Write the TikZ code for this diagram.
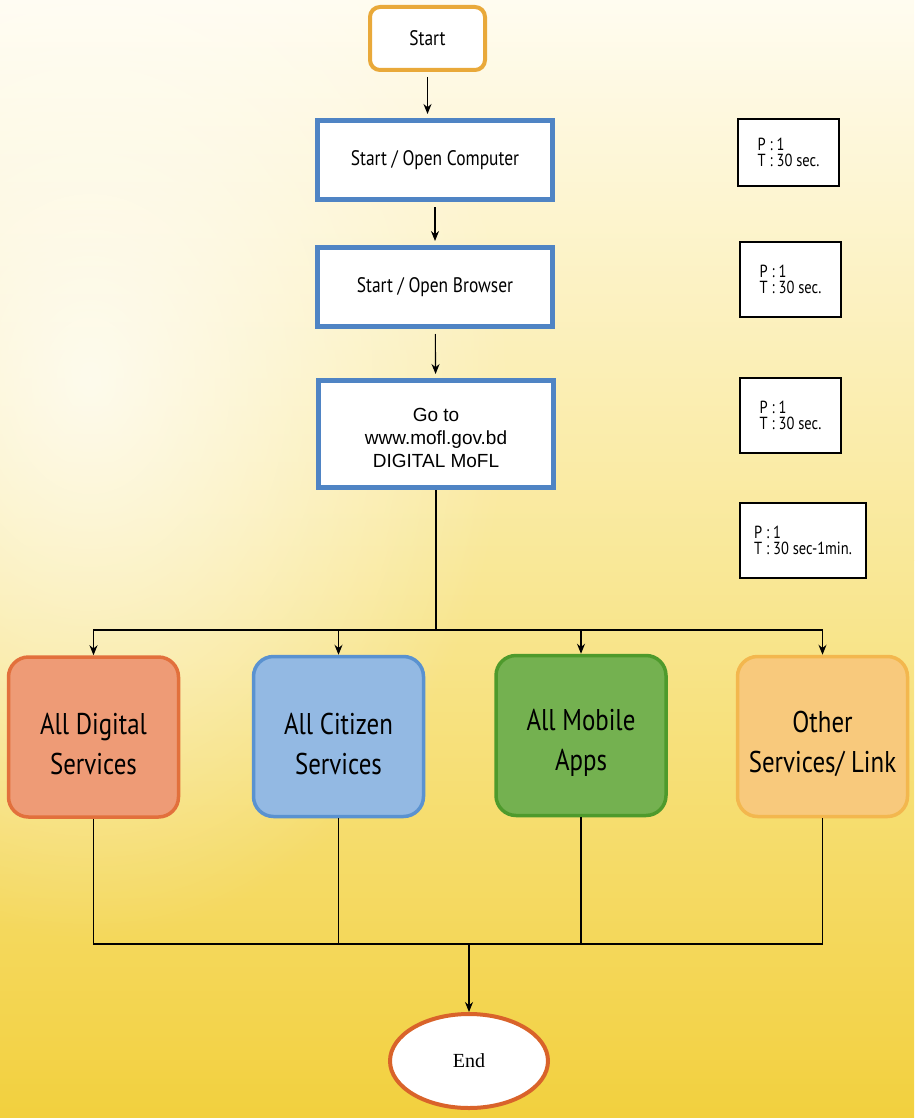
\documentclass[tikz,border=0pt]{standalone}
\usepackage{fontspec}
\setmainfont{Liberation Serif}
\newfontfamily\boxfont[FakeStretch=0.83]{PT Sans}
\newfontfamily\webfont{Liberation Sans}
\usetikzlibrary{shapes.geometric,arrows.meta,fadings}

\definecolor{bgtop}{HTML}{FFFCF0}
\definecolor{bgmid}{HTML}{F9E898}
\definecolor{bgbottom}{HTML}{F2D03E}
\definecolor{startorange}{HTML}{E9A93A}
\definecolor{stepblue}{HTML}{4F84C4}
\definecolor{digitalfill}{HTML}{EE9B76}
\definecolor{digitaldraw}{HTML}{E2703C}
\definecolor{citizenfill}{HTML}{93B9E3}
\definecolor{citizendraw}{HTML}{5A92D0}
\definecolor{mobilefill}{HTML}{74B150}
\definecolor{mobiledraw}{HTML}{4E9A2C}
\definecolor{otherfill}{HTML}{F8C97C}
\definecolor{otherdraw}{HTML}{F3B74E}
\definecolor{endorange}{HTML}{D9632A}

\tikzfading[name=softglow,inner color=transparent!0,outer color=transparent!100]

\begin{document}
\begin{tikzpicture}[x=1pt,y=-1pt,>={Stealth[length=10pt,width=8pt]}]

	\tikzstyle{startbox}=[draw=startorange,line width=4pt,rounded corners=10pt,fill=white,minimum width=115pt,minimum height=63pt,font=\boxfont\fontsize{21}{24}\selectfont]
	\tikzstyle{stepbox}=[draw=stepblue,line width=5pt,fill=white,minimum width=235pt,minimum height=79pt,align=center,font=\boxfont\fontsize{21}{24}\selectfont]
	\tikzstyle{timebox}=[draw,line width=1.4pt,fill=white,align=left,font=\boxfont\fontsize{17.5}{16}\selectfont]
	\tikzstyle{servicebox}=[line width=3.5pt,rounded corners=20pt,minimum width=170pt,minimum height=160pt,align=center,font=\boxfont\fontsize{30}{40}\selectfont]
	\tikzstyle{link}=[line width=1.1pt]
	\tikzstyle{gap}=[shorten <=5pt,shorten >=4pt]

	% background
	\useasboundingbox (0,0) rectangle (914,1118);
	\shade[top color=bgtop,bottom color=bgmid] (0,0) rectangle (914,560);
	\shade[top color=bgmid,bottom color=bgbottom] (0,560) rectangle (914,1118);
	\fill[white,opacity=0.75,path fading=softglow] (90,380) ellipse (420pt and 560pt);

	\node[startbox] (start) at (427.5,38.5) {Start};
	\node[stepbox] (computer) at (435,160) {Start / Open Computer};
	\node[stepbox] (browser) at (435,287) {Start / Open Browser};
	\node[stepbox,minimum height=107pt,font=\webfont\fontsize{19}{23}\selectfont] (goto) at (436,434) {\rule{0pt}{22pt}Go to\\www.mofl.gov.bd\\DIGITAL MoFL};

	\node[timebox,minimum width=101pt,minimum height=67pt] (t1) at (788.5,152.5) {P : 1\\T : 30 sec.};
	\node[timebox,minimum width=101pt,minimum height=75pt] (t2) at (790.5,279.5) {P : 1\\T : 30 sec.};
	\node[timebox,minimum width=101pt,minimum height=75pt] (t3) at (790.5,415.5) {P : 1\\T : 30 sec.};
	\node[timebox,minimum width=126pt,minimum height=75pt] (t4) at (803,540.5) {P : 1\\T : 30 sec-1min.};

	\node[servicebox,draw=digitaldraw,fill=digitalfill] (digital) at (93.5,737) {\rule{0pt}{36pt}All Digital\\Services};
	\node[servicebox,draw=citizendraw,fill=citizenfill] (citizen) at (338.5,736.5) {\rule{0pt}{36pt}All Citizen\\Services};
	\node[servicebox,draw=mobiledraw,fill=mobilefill] (mobile) at (581,735.5) {\rule{0pt}{36pt}All Mobile\\Apps};
	\node[servicebox,draw=otherdraw,fill=otherfill] (other) at (822.5,736.5) {\rule{0pt}{36pt}Other\\Services/ Link};

	\node[ellipse,draw=endorange,line width=4pt,fill=white,minimum width=158pt,minimum height=94pt,font=\fontsize{20}{24}\selectfont] (stop) at (469,1061) {End};

	\draw[link,gap,->] (start) -- (start |- computer.north);
	\draw[link,gap,->] (computer) -- (browser);
	\draw[link,gap,->] (browser) -- (goto);

	\coordinate (split) at (436,630);
	\coordinate (join) at (469,944);
	\draw[link] (goto) -- (split);
	\foreach \s in {digital,citizen,mobile,other}
		\draw[link,->] (split) -| (\s.north);
	\foreach \s in {digital,citizen,mobile,other}
		\draw[link] (\s.south) |- (join);
	\draw[link,->] (join) -- (stop);

\end{tikzpicture}
\end{document}
